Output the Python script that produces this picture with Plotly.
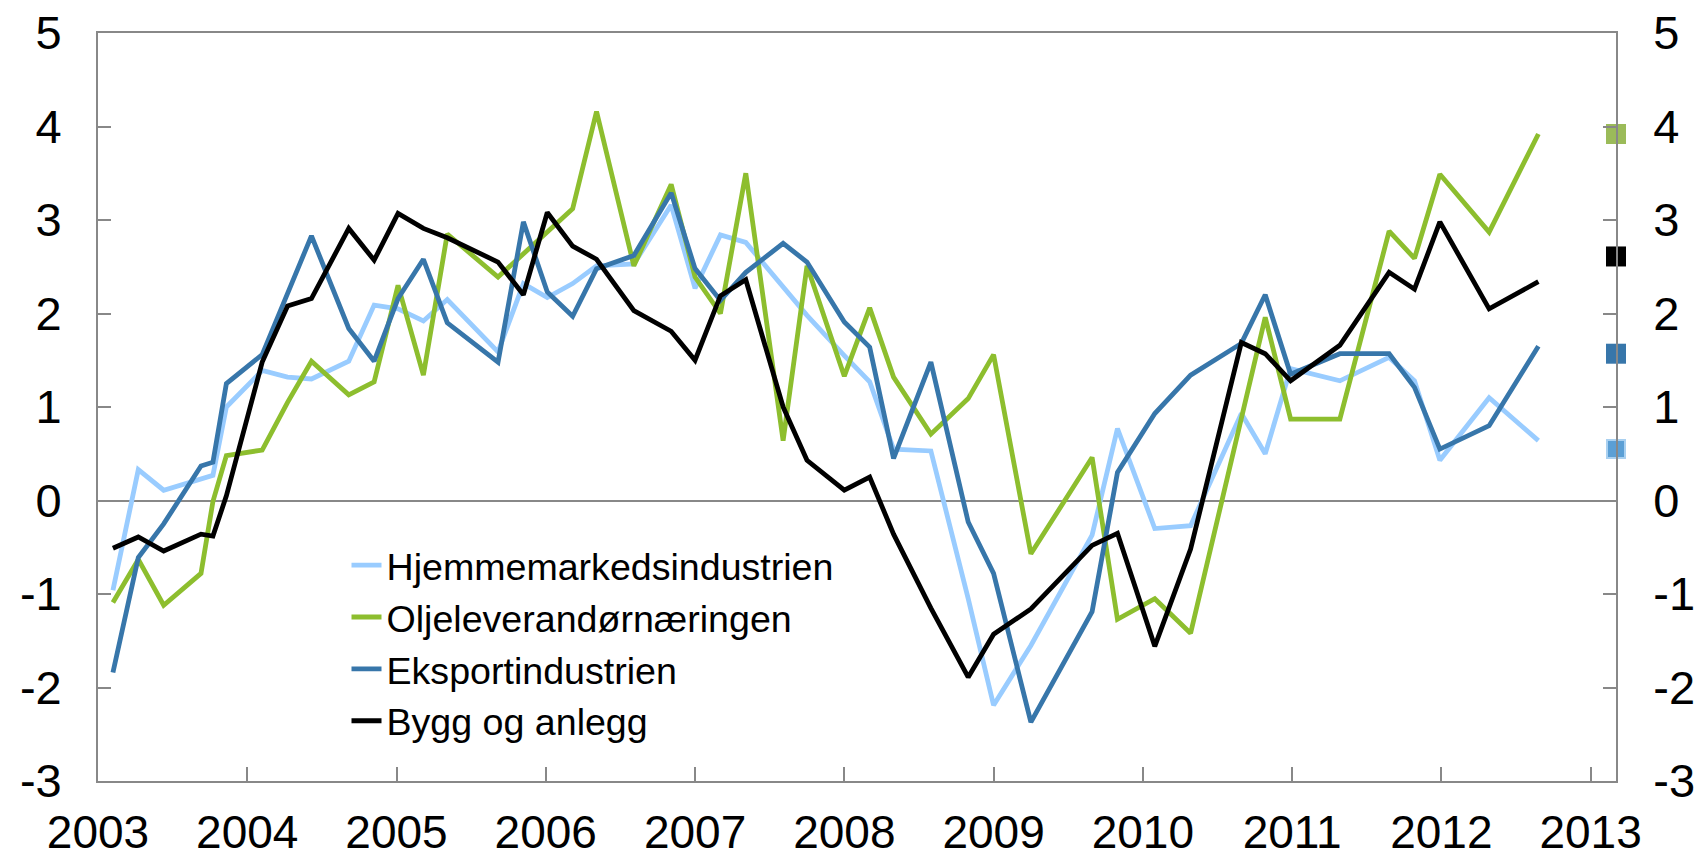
import plotly.graph_objects as go

# ---- data (decimal years) ----
dates = [2003.10, 2003.27, 2003.44, 2003.69, 2003.77, 2003.86, 2004.10, 2004.27, 2004.43,
         2004.68, 2004.85, 2005.01, 2005.18, 2005.34, 2005.68, 2005.85, 2006.01, 2006.18,
         2006.34, 2006.59, 2006.84, 2007.00, 2007.17, 2007.34, 2007.59, 2007.75, 2008.00,
         2008.17, 2008.33, 2008.58, 2008.83, 2009.00, 2009.25, 2009.66, 2009.83, 2010.08,
         2010.32, 2010.66, 2010.82, 2010.99, 2011.32, 2011.65, 2011.82, 2011.99, 2012.32,
         2012.65]

hjemme = [-0.96, 0.33, 0.11, 0.23, 0.27, 1.00, 1.39, 1.32, 1.30, 1.49, 2.09, 2.05, 1.92,
          2.15, 1.59, 2.32, 2.17, 2.32, 2.51, 2.53, 3.16, 2.27, 2.84, 2.76, 2.28, 1.98, 1.55,
          1.27, 0.55, 0.53, -1.05, -2.19, -1.55, -0.37, 0.77, -0.30, -0.27, 0.93, 0.50,
          1.41, 1.28, 1.53, 1.28, 0.43, 1.10, 0.64]

olje = [-1.09, -0.63, -1.12, -0.78, -0.01, 0.48, 0.54, 1.05, 1.49, 1.13, 1.27, 2.30, 1.34,
        2.85, 2.39, 2.64, 2.88, 3.12, 4.16, 2.51, 3.38, 2.39, 2.00, 3.50, 0.64, 2.51, 1.33,
        2.06, 1.32, 0.71, 1.09, 1.56, -0.57, 0.46, -1.27, -1.05, -1.42, 0.85, 1.96, 0.87,
        0.87, 2.88, 2.59, 3.49, 2.87, 3.92]

eksport = [-1.84, -0.61, -0.25, 0.37, 0.41, 1.25, 1.56, 2.23, 2.83, 1.84, 1.49, 2.16, 2.58,
           1.90, 1.48, 2.98, 2.23, 1.97, 2.48, 2.62, 3.29, 2.48, 2.14, 2.44, 2.75, 2.55, 1.91,
           1.64, 0.45, 1.48, -0.23, -0.78, -2.37, -1.19, 0.30, 0.93, 1.34, 1.68, 2.20, 1.35,
           1.57, 1.57, 1.21, 0.55, 0.80, 1.65]

bygg = [-0.51, -0.39, -0.54, -0.36, -0.38, 0.05, 1.48, 2.08, 2.16, 2.91, 2.57, 3.07, 2.91,
        2.81, 2.55, 2.20, 3.08, 2.72, 2.58, 2.03, 1.81, 1.50, 2.19, 2.36, 1.00, 0.43, 0.11,
        0.25, -0.36, -1.15, -1.89, -1.43, -1.16, -0.48, -0.35, -1.56, -0.52, 1.69, 1.57,
        1.28, 1.66, 2.44, 2.26, 2.98, 2.05, 2.34]

series_names = ["Hjemmemarkedsindustrien", "Oljeleverandørnæringen",
                "Eksportindustrien", "Bygg og anlegg"]
series_values = [hjemme, olje, eksport, bygg]
line_colors = ["#99CCFF", "#8DBE2E", "#3776AA", "#000000"]

# expectations shown as squares on the right axis
expect_date = 2013.17
expectations = [0.55, 3.92, 1.57, 2.61]
expect_colors = ["#5B9FD5", "#9BBB59", "#3776AA", "#000000"]

year_ticks = list(range(2003, 2014))
year_labels = [str(y) for y in year_ticks]
y_ticks = list(range(-3, 6))
y_labels = [str(v) for v in y_ticks]

axis_col = "#888888"
font_family = "Arial, 'Liberation Sans', sans-serif"
tick_font = dict(size=47, color="black", family=font_family)

fig = go.Figure()
for name, vals, col in zip(series_names, series_values, line_colors):
    fig.add_trace(go.Scatter(x=dates, y=vals, mode="lines", name=name,
                             line=dict(color=col, width=4.8)))

fig.add_trace(go.Scatter(
    x=[expect_date] * len(expectations), y=expectations, mode="markers", yaxis="y2",
    showlegend=False, cliponaxis=False,
    marker=dict(symbol="square", size=[18, 20, 20, 20], color=expect_colors, opacity=1,
                line=dict(width=[2, 0, 0, 0], color="#A9D0F0"))))

common_y = dict(range=[-3, 5], tickvals=y_ticks, ticktext=y_labels, ticks="inside",
                ticklen=13, tickwidth=1.7, tickcolor=axis_col, showline=True,
                linecolor=axis_col, linewidth=1.7, showgrid=False, automargin=False,
                ticklabeloverflow="allow", tickfont=tick_font)

fig.update_layout(
    width=1702, height=860, autosize=False,
    margin=dict(l=98, r=86, t=33, b=79),
    paper_bgcolor="white", plot_bgcolor="white",
    font=dict(family=font_family, size=37.6, color="black"),
    xaxis=dict(range=[2003, expect_date], tickvals=year_ticks, ticktext=year_labels,
               ticks="inside", ticklen=14, tickwidth=1.7, tickcolor=axis_col,
               showline=True, linecolor=axis_col, linewidth=1.7, mirror=True,
               showgrid=False, zeroline=False, ticklabelstandoff=10, automargin=False,
               ticklabeloverflow="allow", tickfont=dict(tick_font, size=46)),
    yaxis=dict(**common_y, mirror=True, zeroline=True, zerolinecolor=axis_col,
               zerolinewidth=1.7, ticklabelstandoff=25),
    yaxis2=dict(**common_y, overlaying="y", side="right", zeroline=False,
                ticklabelstandoff=26),
    legend=dict(x=0.1637, y=0.330, xanchor="left", yanchor="top",
                bgcolor="rgba(0,0,0,0)", borderwidth=0, tracegroupgap=0,
                font=dict(size=37.6, color="black", family=font_family)),
    showlegend=True,
)

# remove the default 8px page margin so the figure fills the window exactly
fig.write_html("out.html",
               config={"displayModeBar": False},
               post_script="document.body.style.margin='0';"
                           "document.body.style.overflow='hidden';")
